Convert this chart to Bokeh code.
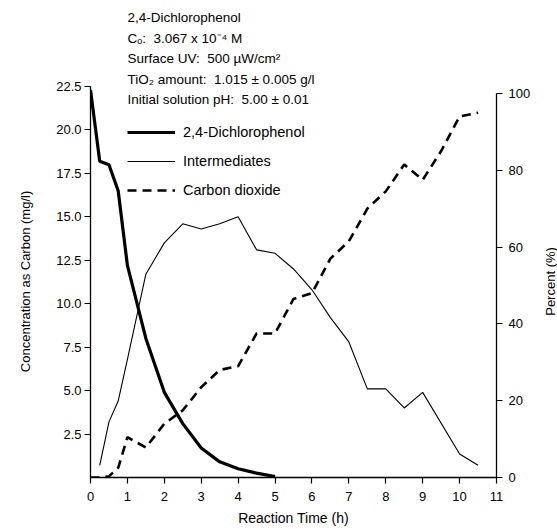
import math
from bokeh.plotting import figure
from bokeh.models import (Range1d, LinearAxis, FixedTicker, Label, Legend, LegendItem,
                          CustomJSTickFormatter)
from bokeh.embed import file_html
from bokeh.resources import INLINE

# ---- data ----
dcp_t = [0, 0.25, 0.5, 0.75, 1.0, 1.5, 2.0, 2.5, 3.0, 3.5, 4.0, 4.5, 5.0]
dcp_c = [22.3, 18.2, 18.0, 16.5, 12.2, 8.0, 4.9, 3.1, 1.7, 0.9, 0.5, 0.25, 0.05]

int_t = [0.25, 0.5, 0.75, 1.0, 1.5, 2.0, 2.5, 3.0, 3.5, 4.0, 4.5, 5.0, 5.5, 6.0,
         6.5, 7.0, 7.5, 8.0, 8.5, 9.0, 10.0, 10.5]
int_c = [0.7, 3.2, 4.4, 6.8, 11.7, 13.5, 14.6, 14.3, 14.6, 15.0, 13.1, 12.9, 12.0, 10.8,
         9.2, 7.8, 5.1, 5.1, 4.0, 4.9, 1.35, 0.7]

co2_t = [0, 0.25, 0.5, 0.75, 1.0, 1.5, 2.0, 2.5, 3.0, 3.5, 4.0, 4.5, 5.0, 5.5, 6.0,
         6.5, 7.0, 7.5, 8.0, 8.5, 9.0, 9.5, 10.0, 10.5]
co2_p = [0, 0, 0.3, 2.5, 10.5, 7.8, 14.0, 17.5, 23.5, 28.0, 29.0, 37.5, 37.5, 46.5, 48.0,
         57.0, 61.5, 70.0, 74.5, 81.5, 77.5, 85.0, 94.0, 95.0]

x_ticks = list(range(0, 12))
left_ticks = [2.5, 5.0, 7.5, 10.0, 12.5, 15.0, 17.5, 20.0, 22.5]
right_ticks = [0, 20, 40, 60, 80, 100]

NB = "\u00a0"
info_lines = [
    "2,4-Dichlorophenol",
    "C\u2092:" + NB + " 3.067 x 10\u207b\u2074 M",
    "Surface UV:" + NB + " 500 \u00b5W/cm\u00b2",
    "TiO\u2082 amount:" + NB + " 1.015 \u00b1 0.005 g/l",
    "Initial solution pH:" + NB + " 5.00 \u00b1 0.01",
]
series_names = ["2,4-Dichlorophenol", "Intermediates", "Carbon dioxide"]
x_title = "Reaction Time (h)"
left_title = "Concentration as Carbon (mg/l)"
right_title = "Percent (%)"

FONT = "Liberation Sans"
FS = "13px"

p = figure(width=557, height=529, output_backend="svg", toolbar_location=None,
           x_range=Range1d(0, 11), y_range=Range1d(0, 27.16),
           min_border_left=90, min_border_right=61, min_border_top=5, min_border_bottom=52)
p.extra_y_ranges = {"pct": Range1d(0, 122.9)}
p.outline_line_color = None
p.xgrid.visible = False
p.ygrid.visible = False
p.background_fill_color = "white"
p.border_fill_color = "white"

# bottom axis
xa = p.xaxis[0]
xa.ticker = FixedTicker(ticks=x_ticks)
xa.axis_label = x_title
xa.minor_tick_line_color = None
xa.major_tick_in = 0
xa.major_tick_out = 6
xa.major_label_standoff = 8
xa.axis_label_standoff = 6

# left axis
ya = p.yaxis[0]
ya.ticker = FixedTicker(ticks=left_ticks)
ya.formatter = CustomJSTickFormatter(code="return tick.toFixed(1);")
ya.minor_tick_line_color = None
ya.major_tick_in = 0
ya.major_tick_out = 6
ya.major_label_standoff = 3
ya.bounds = (0, 22.5)

# right axis
ra = LinearAxis(y_range_name="pct", ticker=FixedTicker(ticks=right_ticks))
ra.minor_tick_line_color = None
ra.major_tick_in = 0
ra.major_tick_out = 6
ra.major_label_standoff = 6
ra.bounds = (0, 100)
p.add_layout(ra, "right")

for ax in [xa, ya, ra]:
    ax.axis_line_color = "black"
    ax.axis_line_width = 1.3
    ax.major_tick_line_color = "black"
    ax.major_tick_line_width = 1.2
    ax.major_label_text_font = FONT
    ax.major_label_text_font_size = FS
    ax.major_label_text_color = "black"
    ax.axis_label_text_font = FONT
    ax.axis_label_text_font_size = "14px"
    ax.axis_label_text_font_style = "normal"
    ax.axis_label_text_color = "black"

# vertical axis titles, both reading bottom-to-top as in the reference
p.add_layout(Label(x=-1.76, y=11.28, text=left_title, angle=math.pi / 2,
                   text_font=FONT, text_font_size=FS, text_color="black",
                   text_align="center", text_baseline="middle"), "left")
p.add_layout(Label(x=12.45, y=11.28, text=right_title, angle=math.pi / 2,
                   text_font=FONT, text_font_size=FS, text_color="black",
                   text_align="center", text_baseline="middle"), "right")

r1 = p.line(dcp_t, dcp_c, line_color="black", line_width=3.2)
r2 = p.line(int_t, int_c, line_color="black", line_width=1.1)
r3 = p.line(co2_t, co2_p, line_color="black", line_width=2.6, line_dash="9 6",
            y_range_name="pct")

legend = Legend(items=[LegendItem(label=series_names[0], renderers=[r1]),
                       LegendItem(label=series_names[1], renderers=[r2]),
                       LegendItem(label=series_names[2], renderers=[r3])],
                location=(37, 277), padding=0, margin=0, spacing=9,
                glyph_width=48, glyph_height=20, label_height=20, label_standoff=8,
                border_line_color=None, background_fill_alpha=0,
                label_text_font=FONT, label_text_font_size="14.5px", label_text_color="black")
p.add_layout(legend, "center")

# info block (placed on the left-axis scale, above the plotted data)
info_y = [26.45, 25.27, 24.09, 22.91, 21.73]
for txt, yy in zip(info_lines, info_y):
    p.add_layout(Label(x=1.0, y=yy, text=txt, text_font=FONT, text_font_size="13.5px",
                       text_color="black", text_align="left", text_baseline="middle"))

open("out.html", "w").write(file_html(p, INLINE))
